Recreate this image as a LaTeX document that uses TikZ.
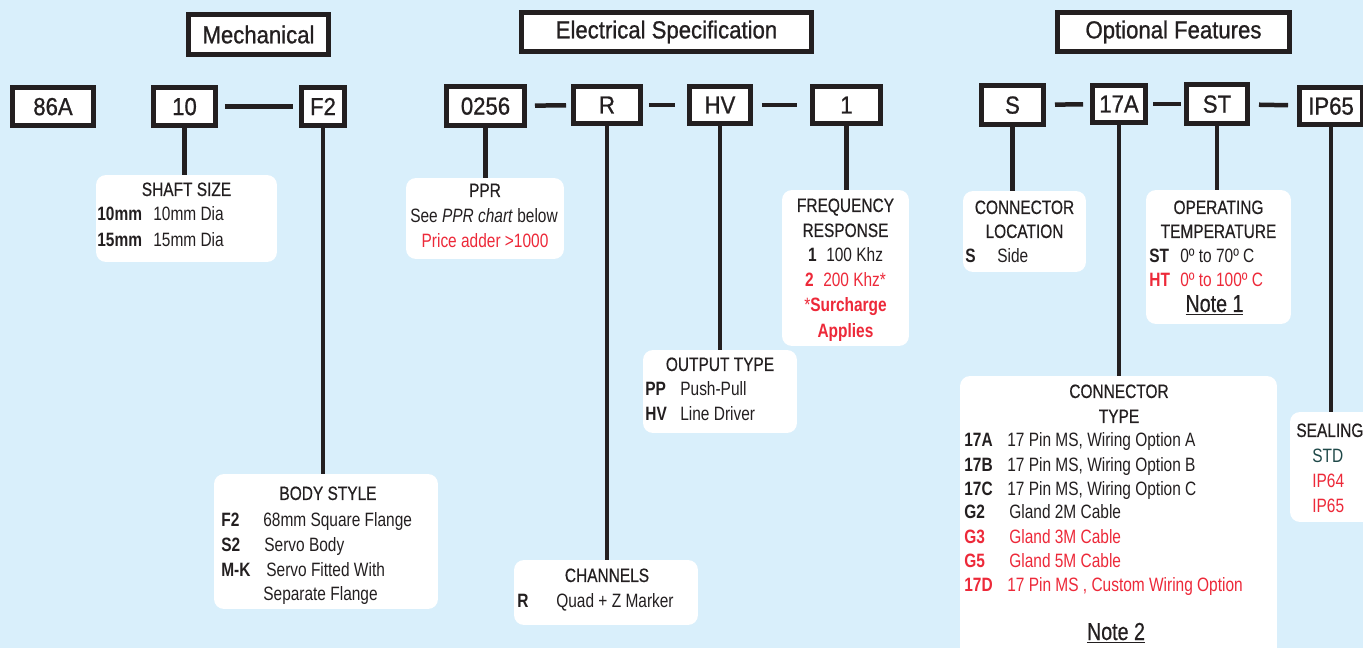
\documentclass[tikz,border=0pt]{standalone}
\usepackage{fontspec}
\setmainfont[FakeStretch=0.92]{Liberation Sans}
\newfontfamily\narrowfont[FakeStretch=0.8]{Liberation Sans}
\newfontfamily\headfont[FakeStretch=0.9, FakeBold=0.9]{Liberation Sans}
\newfontfamily\titlefont[FakeStretch=0.8, FakeBold=0.5]{Liberation Sans}

\definecolor{sky}{RGB}{217,239,251}
\definecolor{ink}{RGB}{35,31,32}
\definecolor{alert}{RGB}{237,41,57}
\definecolor{sealgreen}{RGB}{30,72,72}

\tikzset{
  head/.style={draw=ink, fill=white, line width=0.1cm, inner sep=0pt, text=ink, font=\headfont\fontsize{14}{16}\selectfont},
  code/.style={head, text depth=-0.1cm},
  info/.style={fill=white, rounded corners=0.2cm, inner sep=0pt, outer sep=0pt},
  stem/.style={draw=ink, line width=0.09cm},
  link/.style={draw=ink, line width=0.09cm, shorten <=0.16cm, shorten >=0.16cm},
  ttl/.style={anchor=base, inner sep=0pt, text=ink, font=\narrowfont\fontsize{11}{13}\selectfont},
  heading/.style={ttl, font=\titlefont\fontsize{11}{13}\selectfont},
  key/.style={anchor=base west, inner sep=0pt, text=ink, font=\narrowfont\bfseries\fontsize{11}{13}\selectfont},
  val/.style={anchor=base west, inner sep=0pt, text=ink, font=\narrowfont\fontsize{11}{13}\selectfont},
  hot/.style={text=alert},
  note/.style={anchor=base, inner sep=0pt, text=ink, font=\titlefont\fontsize{14}{16}\selectfont}
}

\begin{document}
\begin{tikzpicture}[x=0.02cm, y=-0.02cm]
    \clip (0,0) rectangle (1363,648);
    \fill[sky] (0,0) rectangle (1363,648);

    % Group headers
    \node[head, minimum width=2.8cm, minimum height=0.8cm] (mech) at (258.5,34.5) {Mechanical};
    \node[head, minimum width=5.8cm, minimum height=0.78cm] (elec) at (666.5,32) {Electrical Specification};
    \node[head, minimum width=4.64cm, minimum height=0.78cm] (opt) at (1173.5,32) {Optional Features};

    % Part number boxes
    \node[code, minimum width=1.62cm, minimum height=0.76cm] (c86) at (53,106.5) {86A};
    \node[code, minimum width=1.24cm, minimum height=0.76cm] (c10) at (184.5,106.5) {10};
    \node[code, minimum width=0.86cm, minimum height=0.76cm] (cF2) at (323,106.5) {F2};
    \node[code, minimum width=1.56cm, minimum height=0.78cm] (c0256) at (485.5,106) {0256};
    \node[code, minimum width=1.34cm, minimum height=0.74cm] (cR) at (607,105) {R};
    \node[code, minimum width=1.22cm, minimum height=0.74cm] (cHV) at (720,105) {HV};
    \node[code, minimum width=1.36cm, minimum height=0.74cm] (c1) at (846.5,105) {1};
    \node[code, minimum width=1.24cm, minimum height=0.78cm] (cS) at (1012.5,105) {S};
    \node[code, minimum width=1.06cm, minimum height=0.74cm] (c17A) at (1119,104) {17A};
    \node[code, minimum width=1.22cm, minimum height=0.78cm] (cST) at (1217,104) {ST};
    \node[code, minimum width=1.26cm, minimum height=0.74cm] (cIP) at (1331,106) {IP65};

    % Dashes between boxes
    \draw[link, shorten <=0.14cm, shorten >=0.12cm] (c10) -- (cF2);
    \draw[link, shorten >=0.1cm] (c0256) -- (cR);
    \draw[link, shorten <=0.12cm, shorten >=0.24cm] (cR) -- (cHV);
    \draw[link, shorten <=0.18cm, shorten >=0.26cm] (cHV) -- (c1);
    \draw[link, shorten <=0.18cm, shorten >=0.14cm] (cS) -- (c17A);
    \draw[link, shorten <=0.1cm, shorten >=0.06cm] (c17A) -- (cST);
    \draw[link, shorten <=0.18cm, shorten >=0.18cm] (cST) -- (cIP);

    % Option panels
    \node[info, minimum width=3.62cm, minimum height=1.74cm] (shaft) at (186.5,218.5) {};
    \node[info, minimum width=3.16cm, minimum height=1.62cm] (ppr) at (485,218.5) {};
    \node[info, minimum width=2.54cm, minimum height=3.12cm] (freq) at (845.5,268) {};
    \node[info, minimum width=3.08cm, minimum height=1.66cm] (output) at (720,391.5) {};
    \node[info, minimum width=2.46cm, minimum height=1.62cm] (connloc) at (1024.5,231.5) {};
    \node[info, minimum width=2.9cm, minimum height=2.68cm] (temp) at (1218.5,257) {};
    \node[info, minimum width=4.48cm, minimum height=2.7cm] (body) at (326,541.5) {};
    \node[info, minimum width=3.68cm, minimum height=1.3cm] (chan) at (606,592.5) {};
    \node[info, minimum width=6.34cm, minimum height=5.68cm] (conntype) at (1118.5,518) {};
    \node[info, minimum width=1.8cm, minimum height=2.2cm] (seal) at (1335,467) {};

    % Stems down to the panels
    \draw[stem] (c10.south) -- (c10.south |- shaft.north);
    \draw[stem] (cF2.south) -- (cF2.south |- body.north);
    \draw[stem] (c0256.south) -- (c0256.south |- ppr.north);
    \draw[stem] (cR.south) -- (cR.south |- chan.north);
    \draw[stem] (cHV.south) -- (cHV.south |- output.north);
    \draw[stem] (c1.south) -- (c1.south |- freq.north);
    \draw[stem] (cS.south) -- (cS.south |- connloc.north);
    \draw[stem] (c17A.south) -- (c17A.south |- conntype.north);
    \draw[stem] (cST.south) -- (cST.south |- temp.north);
    \draw[stem] (cIP.south) -- (cIP.south |- seal.north);

    % Shaft size
    \node[heading] (shaftT) at (186.5,196) {SHAFT SIZE};
    \node[key] (shaftK1) at (97,221) {10mm};
    \node[val] (shaftV1) at (153,221) {10mm Dia};
    \node[key] (shaftK2) at (97,247) {15mm};
    \node[val] (shaftV2) at (153,247) {15mm Dia};

    % PPR
    \node[heading] (pprT) at (485,197) {PPR};
    \node[ttl] (pprL1) at (484,223) {See \textit{PPR chart} below};
    \node[ttl, hot] (pprL2) at (485,248) {Price adder >1000};

    % Frequency response
    \node[heading] (freqT1) at (845.5,212) {FREQUENCY};
    \node[heading] (freqT2) at (845.5,237) {RESPONSE};
    \node[ttl] (freqL1) at (845.5,262) {{\bfseries 1}\enspace 100 Khz};
    \node[ttl, hot] (freqL2) at (845.5,287) {{\bfseries 2}\enspace 200 Khz*};
    \node[ttl, hot] (freqL3) at (845.5,312) {*{\bfseries Surcharge}};
    \node[ttl, hot] (freqL4) at (845.5,338) {{\bfseries Applies}};

    % Output type
    \node[heading] (outT) at (720,371) {OUTPUT TYPE};
    \node[key] (outK1) at (645,396) {PP};
    \node[val] (outV1) at (680,396) {Push-Pull};
    \node[key] (outK2) at (645,421) {HV};
    \node[val] (outV2) at (680,421) {Line Driver};

    % Connector location
    \node[heading] (locT1) at (1024.5,214) {CONNECTOR};
    \node[heading] (locT2) at (1024.5,238) {LOCATION};
    \node[key] (locK1) at (965,263) {S};
    \node[val] (locV1) at (997,263) {Side};

    % Operating temperature
    \node[heading] (tempT1) at (1218.5,214) {OPERATING};
    \node[heading] (tempT2) at (1218.5,238) {TEMPERATURE};
    \node[key] (tempK1) at (1149,263) {ST};
    \node[val] (tempV1) at (1180,263) {0º to 70º C};
    \node[key, hot] (tempK2) at (1149,287) {HT};
    \node[val, hot] (tempV2) at (1180,287) {0º to 100º C};
    \node[note] (note1) at (1214.5,312) {\underline{Note 1}};

    % Body style
    \node[heading] (bodyT) at (328,500) {BODY STYLE};
    \node[key] (bodyK1) at (221,526) {F2};
    \node[val] (bodyV1) at (263,526) {68mm Square Flange};
    \node[key] (bodyK2) at (221,551) {S2};
    \node[val] (bodyV2) at (264,551) {Servo Body};
    \node[key] (bodyK3) at (221,576) {M-K};
    \node[val] (bodyV3) at (266,576) {Servo Fitted With};
    \node[val] (bodyV4) at (263,601) {Separate Flange};

    % Channels
    \node[heading] (chanT) at (607,582) {CHANNELS};
    \node[key] (chanK1) at (517,607) {R};
    \node[val] (chanV1) at (556,607) {Quad + Z Marker};

    % Connector type
    \node[heading] (typeT1) at (1119,398) {CONNECTOR};
    \node[heading] (typeT2) at (1119,423) {TYPE};
    \node[key] (typeK1) at (964,447) {17A};
    \node[val] (typeV1) at (1007,447) {17 Pin MS, Wiring Option A};
    \node[key] (typeK2) at (964,472) {17B};
    \node[val] (typeV2) at (1007,472) {17 Pin MS, Wiring Option B};
    \node[key] (typeK3) at (964,496) {17C};
    \node[val] (typeV3) at (1007,496) {17 Pin MS, Wiring Option C};
    \node[key] (typeK4) at (964,519) {G2};
    \node[val] (typeV4) at (1009,519) {Gland 2M Cable};
    \node[key, hot] (typeK5) at (964,543) {G3};
    \node[val, hot] (typeV5) at (1009,543) {Gland 3M Cable};
    \node[key, hot] (typeK6) at (964,567) {G5};
    \node[val, hot] (typeV6) at (1009,567) {Gland 5M Cable};
    \node[key, hot] (typeK7) at (964,591) {17D};
    \node[val, hot] (typeV7) at (1007,591) {17 Pin MS , Custom Wiring Option};
    \node[note] (note2) at (1116,640) {\underline{Note 2}};

    % Sealing
    \node[heading, anchor=base west] (sealT) at (1296,437) {SEALING};
    \node[val, text=sealgreen] (sealV1) at (1312,462) {STD};
    \node[val, hot] (sealV2) at (1312,488) {IP64};
    \node[val, hot] (sealV3) at (1312,513) {IP65};
\end{tikzpicture}
\end{document}
